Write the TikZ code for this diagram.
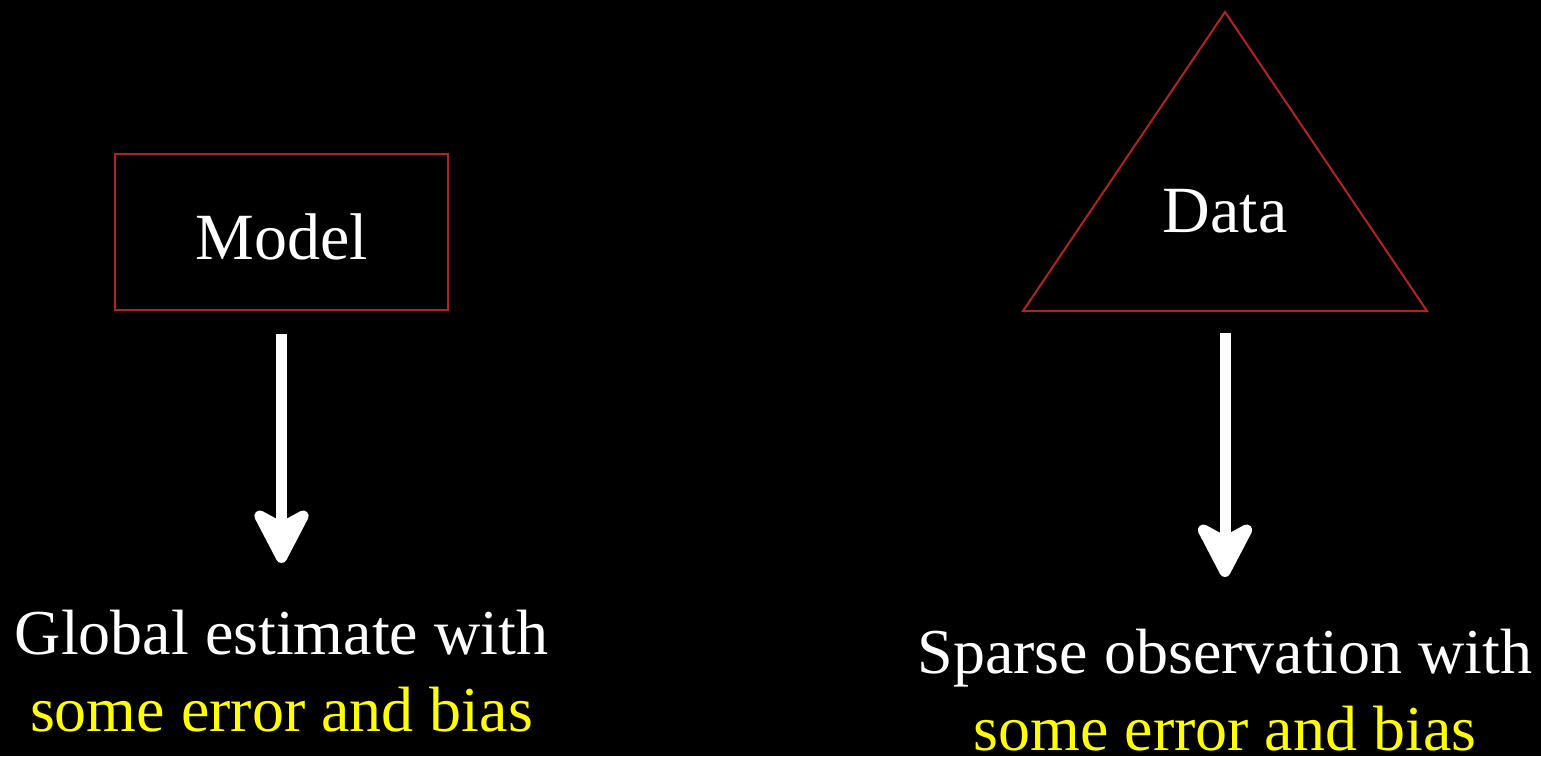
\documentclass[tikz,border=0pt]{standalone}
\usepackage{fontspec}
\setmainfont{Liberation Serif}
\usetikzlibrary{positioning,arrows.meta}

\definecolor{boxred}{RGB}{178,34,34}
\definecolor{hiyellow}{RGB}{255,255,0}

\begin{document}
\begin{tikzpicture}[
    x=0.5pt, y=0.5pt,
    outline/.style={draw=boxred, line width=1pt},
    label/.style={text=white, font=\fontsize{33}{38.5}\selectfont},
    caption/.style={text=white, align=center, inner sep=0pt, font=\fontsize{32}{38.5}\selectfont},
    bigarrow/.style={white, line width=5.5pt, -{Stealth[length=33pt, width=34pt, inset=9pt, round]}}
]

% background fixes the page size
\fill[black] (0,0) rectangle (1541,756);

\node (model) [outline, label, text height=27.5pt, minimum width=166.5pt, minimum height=78pt] at (281.5,524) {Model};
\node (est) [caption, below=149.5pt of model] {Global estimate with \\ \textcolor{hiyellow}{some error and bias}};

\draw[outline] (1023,445) -- (1225,744) -- (1427,445) -- cycle;
\node (data) [label] at (1225,545) {Data};
\coordinate (tribase) at (1225,445);
\node (sparse) [caption, below=159pt of tribase] {Sparse observation with \\ \textcolor{hiyellow}{some error and bias}};

\draw[bigarrow] ([yshift=-11.5pt]model.south) -- ([yshift=23.5pt]est.north);
\draw[bigarrow] ([yshift=-11pt]tribase) -- ([yshift=26pt]sparse.north);

\end{tikzpicture}
\end{document}
